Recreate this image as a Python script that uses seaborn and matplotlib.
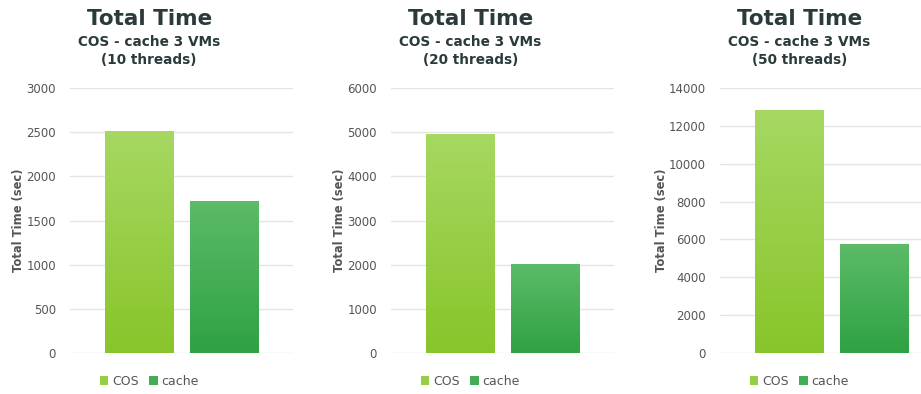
import numpy as np
import pandas as pd
import matplotlib
matplotlib.use('Agg')
import matplotlib.pyplot as plt
from matplotlib.colors import LinearSegmentedColormap
from matplotlib.patches import Patch
import seaborn as sns

# ==================== Data ====================
series = ['COS', 'cache']
threads = ['10 threads', '20 threads', '50 threads']
cos_times = [2513, 4958, 12840]
cache_times = [1721, 2015, 5760]
y_max = [3000, 6000, 14000]
y_step = [500, 1000, 2000]

# ==================== Style ====================
sns.set_style('white')
plt.rcParams['font.family'] = ['DejaVu Sans']

top_colors = {'COS': '#a6d862', 'cache': '#5cbb68'}
bottom_colors = {'COS': '#88c52a', 'cache': '#2fa243'}
palette = {'COS': '#96cf45', 'cache': '#43ad55'}
title_color = '#2b3a3a'
text_color = '#555555'
grid_color = '#e4e4e4'

fig = plt.figure(figsize=(9.21, 3.94), dpi=100)

ax_left = [70, 391, 720]
ax_w = 223 / 921
ax_h = 265 / 394
ax_b = 41 / 394


def gradient_fill(ax, patch, c_top, c_bottom):
    cmap = LinearSegmentedColormap.from_list('g', [c_bottom, c_top])
    x0, y0 = patch.get_x(), patch.get_y()
    w, h = patch.get_width(), patch.get_height()
    grad = np.linspace(0, 1, 256).reshape(-1, 1)
    im = ax.imshow(grad, cmap=cmap, aspect='auto', origin='lower',
                   extent=[x0, x0 + w, y0, y0 + h], zorder=patch.get_zorder() + 0.1)
    im.set_clip_path(patch)


for i in range(3):
    df = pd.DataFrame({'series': series, 'time': [cos_times[i], cache_times[i]]})
    ax = fig.add_axes([ax_left[i] / 921, ax_b, ax_w, ax_h])
    sns.barplot(data=df, x='series', y='time', hue='series', palette=palette,
                width=0.81, dodge=False, legend=False, ax=ax, zorder=3)
    for patch, name in zip(ax.patches, series):
        patch.set_edgecolor('none')
        gradient_fill(ax, patch, top_colors[name], bottom_colors[name])

    ax.set_xlim(-0.82, 1.81)
    ax.set_ylim(0, y_max[i])
    ax.set_yticks(np.arange(0, y_max[i] + 1, y_step[i]))
    ax.yaxis.grid(True, color=grid_color, linewidth=1.0, zorder=0)
    ax.set_axisbelow(True)
    for s in ax.spines.values():
        s.set_visible(False)
    ax.set_xticks([])
    ax.set_xlabel('')
    ax.set_ylabel('Total Time (sec)', fontsize=8.3, color=text_color,
                  fontweight='bold', labelpad=1)
    ax.tick_params(axis='y', length=0, labelsize=8.5, labelcolor=text_color, pad=10)

    # titles
    cx = 0.355
    ax.text(cx, 1.238, 'Total Time', transform=ax.transAxes, ha='center', va='baseline',
            fontsize=15.5, fontweight='bold', color=title_color)
    ax.text(cx, 1.174, 'COS - cache 3 VMs', transform=ax.transAxes, ha='center',
            va='center', fontsize=9.8, fontweight='bold', color=title_color)
    ax.text(cx, 1.106, '(' + threads[i] + ')', transform=ax.transAxes, ha='center',
            va='center', fontsize=9.8, fontweight='bold', color=title_color)

    handles = [Patch(facecolor=palette[s], edgecolor='none') for s in series]
    ax.legend(handles, series, loc='center', bbox_to_anchor=(cx, -0.107), ncol=2,
              frameon=False, fontsize=9, handlelength=0.7, handleheight=0.7,
              handletextpad=0.3, columnspacing=0.8, labelcolor=text_color)

fig.savefig('out.png', dpi=100, facecolor='white')
